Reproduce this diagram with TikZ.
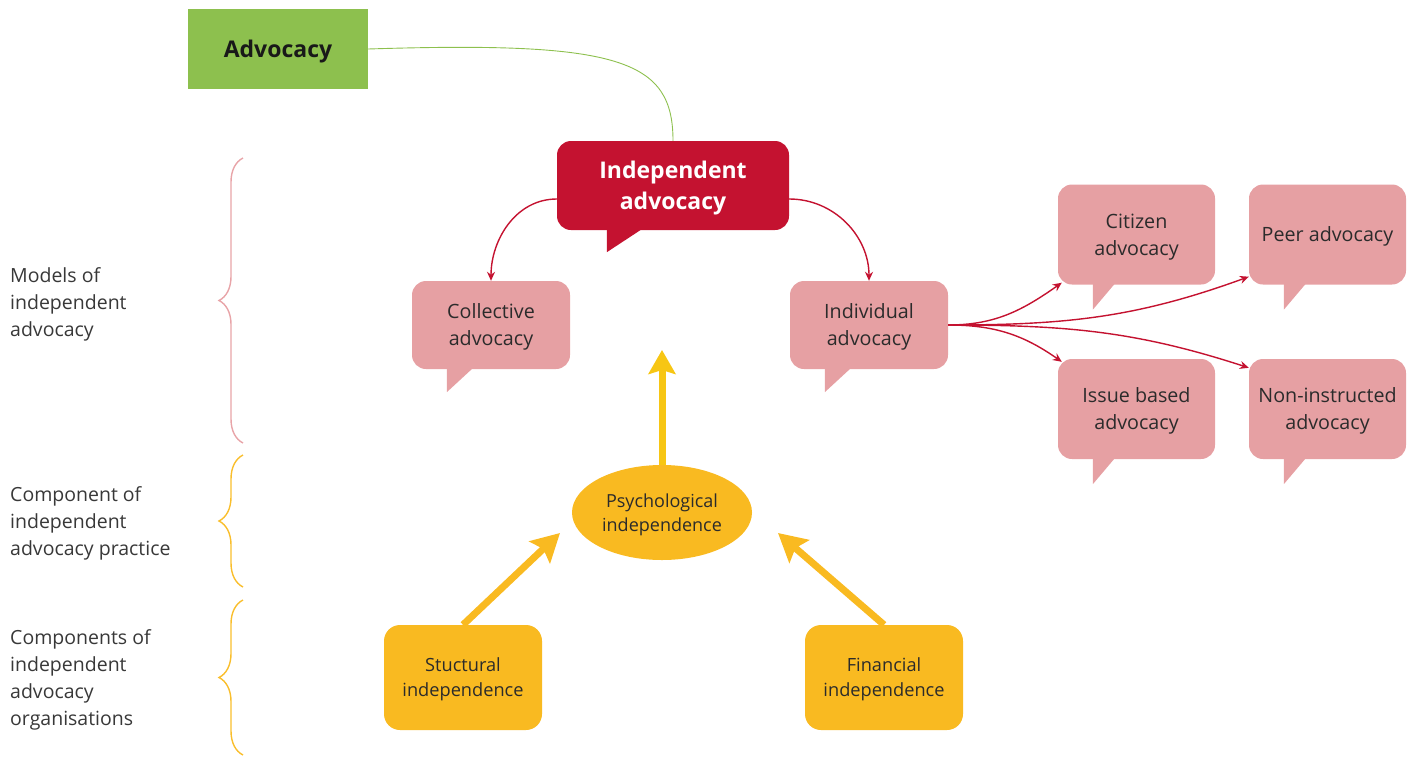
\documentclass[tikz,border=0pt]{standalone}
\usepackage{fontspec}
\setmainfont{Open Sans}
\usetikzlibrary{arrows.meta,shapes.geometric,decorations.pathreplacing}

\definecolor{advgreen}{HTML}{8DC04E}
\definecolor{iared}{HTML}{C41230}
\definecolor{modpink}{HTML}{E6A0A3}
\definecolor{compyellow}{HTML}{F9BA21}
\definecolor{upyellow}{HTML}{F7C614}
\definecolor{labelgrey}{HTML}{383838}
\definecolor{boxtext}{HTML}{2B2B2B}
\definecolor{bracepink}{HTML}{E8A4A8}
\definecolor{braceyellow}{HTML}{F9BE2C}

\tikzset{
  pinkbox/.style={rectangle, rounded corners=14pt, fill=modpink, text=boxtext,
    align=center, inner sep=0pt, text depth=0pt, minimum width=158pt,
    font=\fontsize{19.7}{27}\selectfont},
  yellowbox/.style={rectangle, rounded corners=16pt, fill=compyellow, text=boxtext,
    align=center, inner sep=0pt, text depth=0pt, minimum width=158pt, minimum height=105pt,
    font=\fontsize{18.2}{25}\selectfont},
  sidelabel/.style={anchor=west, align=left, text=labelgrey, inner sep=0pt,
    text depth=0pt, font=\fontsize{19.5}{27}\selectfont},
  redarrow/.style={iared, line width=1.4pt, -{Stealth[length=9pt,width=8pt]}},
  fatarrow/.style={line width=7pt, -{Stealth[length=28pt,width=30pt,inset=5pt]}},
  bracket/.style={decorate, decoration={brace, amplitude=24pt}, line width=1.4pt},
}

% tail of a speech box
\newcommand{\bubtail}[4]{%
  \fill[modpink] ([xshift=#2pt,yshift=1pt]#1.south west) -- ++(0,#4)
    -- ([xshift=#3pt,yshift=1pt]#1.south west) -- cycle;}

\begin{document}
\begin{tikzpicture}[x=1pt, y=-1pt]
  \useasboundingbox (0,0) rectangle (1415,756);

  % side labels and brackets
  \node[sidelabel] (models) at (10,302) {Models of\\independent\\advocacy};
  \node[sidelabel] (practice) at (10,521) {Component of\\independent\\advocacy practice};
  \node[sidelabel] (orgs) at (10,677.5) {Components of\\independent\\advocacy\\organisations};

  \draw[bracket, bracepink] (243,443) -- (243,158);
  \draw[bracket, braceyellow] (243,587) -- (243,455);
  \draw[bracket, braceyellow] (243,755) -- (243,600);

  % top
  \node[rectangle, fill=advgreen, minimum width=180pt, minimum height=80pt,
    text depth=0pt, text=black!90, font=\fontsize{23}{26}\selectfont\bfseries] (adv) at (278,49) {Advocacy};

  \node[rectangle, rounded corners=14pt, fill=iared, text=white, align=center,
    inner sep=0pt, text depth=0pt, minimum width=232pt, minimum height=89pt,
    font=\fontsize{23}{31}\selectfont\bfseries] (ia) at (673,185.5) {Independent\\advocacy};
  \fill[iared] ([xshift=50pt,yshift=1pt]ia.south west) -- ++(0,23)
    -- ([xshift=85pt,yshift=1pt]ia.south west) -- cycle;

  \draw[advgreen, line width=0.9pt] (adv.east) .. controls +(252,-8) and +(0,-81) .. (ia.north);

  % models
  \node[pinkbox, minimum height=88pt] (coll) at (491,325) {Collective\\advocacy};
  \node[pinkbox, minimum height=88pt] (ind) at (869,325) {Individual\\advocacy};
  \node[pinkbox, minimum width=157pt, minimum height=100pt] (cit) at (1136.5,234.5) {Citizen\\advocacy};
  \node[pinkbox, minimum width=157pt, minimum height=100pt] (peer) at (1327.5,234.5) {Peer advocacy};
  \node[pinkbox, minimum width=157pt, minimum height=100pt] (iss) at (1136.5,409) {Issue based\\advocacy};
  \node[pinkbox, minimum width=157pt, minimum height=100pt] (non) at (1327.5,409) {Non-instructed\\advocacy};

  \bubtail{coll}{35}{61}{24}
  \bubtail{ind}{35}{61}{24}
  \bubtail{cit}{35}{57}{26}
  \bubtail{peer}{35}{57}{26}
  \bubtail{iss}{35}{57}{26}
  \bubtail{non}{35}{57}{26}

  \draw[redarrow] ([yshift=-13.5pt]ia.west) to[out=180, in=90] (coll.north);
  \draw[redarrow] ([yshift=-13.5pt]ia.east) to[out=0, in=90] (ind.north);

  \draw[redarrow] (ind.east) to[out=0, in=215] ([xshift=4pt,yshift=2pt]cit.south west);
  \draw[redarrow] (ind.east) to[out=0, in=200] ([yshift=8pt]peer.south west);
  \draw[redarrow] (ind.east) to[out=0, in=145] ([xshift=4pt,yshift=-3pt]iss.north west);
  \draw[redarrow] (ind.east) to[out=0, in=162] ([yshift=-9pt]non.north west);

  % components
  \node[ellipse, fill=compyellow, text=boxtext, align=center, inner sep=0pt,
    text depth=0pt, minimum width=180pt, minimum height=95pt,
    font=\fontsize{18}{24}\selectfont] (psy) at (662,512.5) {Psychological\\independence};
  \node[yellowbox] (stru) at (463,677.5) {Stuctural\\independence};
  \node[yellowbox] (fin) at (884,677.5) {Financial\\independence};

  \coordinate (uptip) at (662,350);
  \coordinate (sttip) at (560,533);
  \coordinate (fitip) at (778,533);

  \draw[fatarrow, upyellow, -{Stealth[length=24pt,width=27pt,inset=4pt]}] (psy.north) -- (uptip);
  \draw[fatarrow, compyellow] (stru.north) -- (sttip);
  \draw[fatarrow, compyellow] (fin.north) -- (fitip);
\end{tikzpicture}
\end{document}
